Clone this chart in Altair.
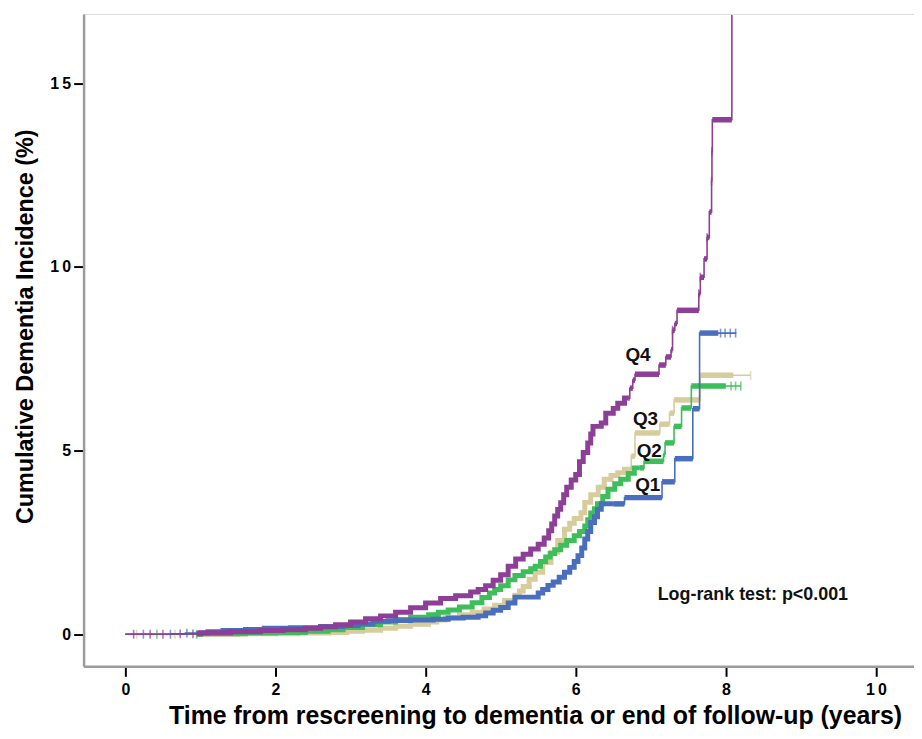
import altair as alt
import pandas as pd

# ---------------- data ----------------
groups = ["Q1", "Q2", "Q3", "Q4"]
colors = ["#4A6EBE", "#3DBE5A", "#D8CC9C", "#8D3E96"]
draw_order = ["Q3", "Q2", "Q1", "Q4"]

q1_t = [0, 0.8, 1.1, 1.3, 1.6, 1.85, 2.2, 2.6, 2.9, 3.1, 3.3, 3.5, 3.8, 4.1, 4.3, 4.5, 4.7, 4.8,
        4.9, 5.0, 5.1, 5.19, 5.5, 5.56, 5.63, 5.7, 5.78, 5.85, 5.92, 5.98, 6.03, 6.08, 6.12, 6.16,
        6.2, 6.25, 6.29, 6.34, 6.65, 7.15, 7.32, 7.56, 7.65, 8.14]
q1_y = [0, 0.03, 0.07, 0.1, 0.13, 0.16, 0.18, 0.21, 0.24, 0.28, 0.35, 0.37, 0.39, 0.41, 0.44, 0.46, 0.5, 0.58,
        0.65, 0.73, 0.85, 1.01, 1.12, 1.22, 1.33, 1.42, 1.55, 1.69, 1.82, 1.98, 2.14, 2.35, 2.59, 2.8,
        3.04, 3.2, 3.4, 3.55, 3.72, 4.15, 4.78, 6.14, 8.2, 8.2]

q2_t = [0, 1.0, 1.6, 2.0, 2.4, 2.7, 2.9, 3.16, 3.4, 3.6, 3.8, 4.04, 4.17, 4.3, 4.45, 4.62, 4.75,
        4.85, 4.92, 5.0, 5.1, 5.19, 5.3, 5.4, 5.46, 5.53, 5.6, 5.66, 5.72, 5.8, 5.88, 5.98, 6.05,
        6.12, 6.16, 6.2, 6.25, 6.29, 6.36, 6.43, 6.52, 6.6, 6.7, 6.78, 6.91, 7.17, 7.19, 7.31,
        7.41, 7.54, 8.2]
q2_y = [0, 0.01, 0.03, 0.05, 0.08, 0.12, 0.18, 0.26, 0.33, 0.4, 0.46, 0.53, 0.6, 0.66, 0.74, 0.86, 1.0,
        1.12, 1.22, 1.32, 1.48, 1.6, 1.7, 1.78, 1.85, 1.98, 2.1, 2.2, 2.3, 2.42, 2.55, 2.68, 2.8,
        2.95, 3.12, 3.3, 3.42, 3.55, 3.75, 3.95, 4.1, 4.22, 4.38, 4.53, 4.71, 4.9, 5.21, 5.66,
        6.16, 6.76, 6.76]

q3_t = [0, 1.5, 2.3, 2.72, 2.95, 3.16, 3.4, 3.6, 3.8, 4.04, 4.15, 4.26, 4.45, 4.62, 4.78, 4.92,
        5.05, 5.19, 5.25, 5.3, 5.38, 5.46, 5.56, 5.67, 5.76, 5.85, 5.92, 5.98, 6.07, 6.12, 6.2,
        6.3, 6.38, 6.47, 6.56, 6.65, 6.74, 6.79, 7.12, 7.25, 7.31, 7.66, 8.33]
q3_y = [0, 0.01, 0.03, 0.05, 0.08, 0.11, 0.16, 0.22, 0.27, 0.33, 0.39, 0.45, 0.53, 0.6, 0.69, 0.79,
        0.92, 1.06, 1.18, 1.3, 1.5, 1.69, 1.95, 2.23, 2.55, 2.86, 3.02, 3.15, 3.31, 3.59, 3.8,
        4.0, 4.22, 4.32, 4.4, 4.49, 4.85, 5.48, 5.72, 6.02, 6.38, 7.05, 7.05]

q4_t = [0, 0.6, 1.0, 1.4, 1.8, 2.1, 2.4, 2.6, 2.8, 3.0, 3.2, 3.4, 3.6, 3.8, 4.0, 4.2, 4.4, 4.6,
        4.7, 4.8, 4.9, 5.0, 5.1, 5.2, 5.3, 5.4, 5.5, 5.58, 5.64, 5.68, 5.72, 5.76, 5.8, 5.84, 5.88,
        5.94, 6.0, 6.05, 6.1, 6.16, 6.2, 6.23, 6.34, 6.4, 6.5, 6.56, 6.65, 6.72, 6.76, 6.79,
        7.11, 7.2, 7.27, 7.29, 7.32, 7.35, 7.64, 7.66, 7.71, 7.75, 7.78, 7.81, 7.815, 7.82, 8.08]
q4_y = [0, 0.01, 0.04, 0.07, 0.10, 0.12, 0.16, 0.2, 0.26, 0.33, 0.42, 0.5, 0.6, 0.72, 0.85, 0.97, 1.05, 1.15,
        1.22, 1.32, 1.47, 1.62, 1.85, 2.05, 2.18, 2.32, 2.45, 2.62, 2.82, 3.0, 3.22, 3.4, 3.58, 3.8, 4.0,
        4.2, 4.35, 4.7, 4.95, 5.21, 5.45, 5.66, 5.75, 6.02, 6.15, 6.29, 6.43, 6.7, 6.92, 7.08,
        7.33, 7.55, 7.74, 8.28, 8.46, 8.82, 9.27, 9.72, 10.22, 10.8, 11.5, 12.34, 13.15, 14.01, 16.86]

# ranges with dense censoring (drawn as a thicker band)
dense_start = {"Q1": 0.95, "Q2": 0.95, "Q3": 0.95, "Q4": 0.95}
dense_cut = {"Q1": 6.5, "Q2": 6.85, "Q3": 6.7, "Q4": 6.7}
dense_end = {"Q1": 7.9, "Q2": 8.0, "Q3": 8.1, "Q4": 8.08}

# isolated censoring marks (times)
cens_q1 = [0.24, 0.6, 0.82, 7.93, 7.99, 8.06, 8.13]
cens_q2 = [0.42, 0.95, 8.07, 8.13, 8.2]
cens_q3 = [0.15, 0.66, 8.33]
cens_q4 = [0.11, 0.33, 0.5, 0.73, 0.9, 7.29, 7.64, 7.66, 7.75, 7.81, 7.815]

label_text = ["Q4", "Q3", "Q2", "Q1"]
label_t = [6.83, 6.93, 6.98, 6.96]
label_y = [7.60, 5.86, 4.99, 4.06]

note_text = ["Log-rank test: p<0.001"]
note_t = [8.36]
note_y = [1.07]

x_ticks = [0, 2, 4, 6, 8, 10]
y_ticks = [0, 5, 10, 15]

# ---------------- tables ----------------
series = {"Q1": (q1_t, q1_y), "Q2": (q2_t, q2_y), "Q3": (q3_t, q3_y), "Q4": (q4_t, q4_y)}
censors = {"Q1": cens_q1, "Q2": cens_q2, "Q3": cens_q3, "Q4": cens_q4}


def step_val(ts, ys, t):
    v = ys[0]
    for ti, yi in zip(ts, ys):
        if ti <= t:
            v = yi
    return v


line_rows, thick_rows, rule_rows, cens_rows = [], [], [], []
for g in groups:
    ts, ys = series[g]
    for i, (t, y) in enumerate(zip(ts, ys)):
        line_rows.append({"g": g, "t": t, "y": y, "i": i})
    a, c, e = dense_start[g], dense_cut[g], dense_end[g]
    pts = [(a, step_val(ts, ys, a))] + [(t, y) for t, y in zip(ts, ys) if a < t < c] + [(c, step_val(ts, ys, c))]
    for i, (t, y) in enumerate(pts):
        thick_rows.append({"g": g, "t": t, "y": y, "i": i})
    for k in range(len(ts) - 1):
        s, f = max(ts[k], c), min(ts[k + 1], e)
        if f > s:
            rule_rows.append({"g": g, "t": s, "t2": f, "y": ys[k]})
    for t in censors[g]:
        cens_rows.append({"g": g, "t": t, "y": step_val(ts, ys, t)})

line_df = pd.DataFrame(line_rows)
thick_df = pd.DataFrame(thick_rows)
rule_df = pd.DataFrame(rule_rows)
cens_df = pd.DataFrame(cens_rows)
label_df = pd.DataFrame({"t": label_t, "y": label_y, "txt": label_text})
note_df = pd.DataFrame({"t": note_t, "y": note_y, "txt": note_text})

# ---------------- encodings ----------------
FONT = "Liberation Sans"
spaced = "datum.value == 10 ? '1\u20090' : datum.value == 15 ? '1\u20095' : datum.label"

xs = alt.Scale(domain=[-0.557, 10.507], nice=False, zero=False)
ys_ = alt.Scale(domain=[-0.875, 16.89], nice=False, zero=False)
cs = alt.Scale(domain=groups, range=colors)

x_axis = alt.Axis(values=x_ticks, title="Time from rescreening to dementia or end of follow-up (years)",
                  titleFontSize=25, titleFontWeight="bold", titleColor="black", titleFont=FONT,
                  titleX=454, titlePadding=6,
                  labelFontSize=16, labelFontWeight="bold", labelColor="black", labelFont=FONT,
                  labelPadding=5, labelExpr=spaced, labelFlush=False, labelOverlap=False,
                  tickColor="black", tickWidth=2, tickSize=10,
                  domainColor="#9b9b9b", domainWidth=2.5, grid=False)
y_axis = alt.Axis(values=y_ticks, title="Cumulative Dementia Incidence (%)",
                  titleFontSize=23.5, titleFontWeight="bold", titleColor="black", titleFont=FONT,
                  titleY=314, titlePadding=12,
                  labelFontSize=16, labelFontWeight="bold", labelColor="black", labelFont=FONT,
                  labelPadding=3, labelExpr=spaced, labelFlush=False, labelOverlap=False,
                  tickColor="black", tickWidth=2, tickSize=10,
                  domainColor="#9b9b9b", domainWidth=2.5, grid=False)

X = alt.X("t:Q", scale=xs, axis=x_axis)
Y = alt.Y("y:Q", scale=ys_, axis=y_axis)
C = alt.Color("g:N", scale=cs, legend=None)

layers = []
for g in draw_order:
    thin = alt.Chart(line_df).transform_filter(alt.datum.g == g).mark_line(
        interpolate="step-after", strokeWidth=1.6, clip=True
    ).encode(x=X, y=Y, color=C, order=alt.Order("i:Q"))
    thick = alt.Chart(thick_df).transform_filter(alt.datum.g == g).mark_line(
        interpolate="step-after", strokeWidth=5, clip=True
    ).encode(x=X, y=Y, color=C, order=alt.Order("i:Q"))
    band = alt.Chart(rule_df).transform_filter(alt.datum.g == g).mark_rule(
        strokeWidth=5.5, strokeCap="butt", clip=True
    ).encode(x=X, x2=alt.X2("t2:Q"), y=Y, color=C)
    ticks = alt.Chart(cens_df).transform_filter(alt.datum.g == g).mark_tick(
        orient="vertical", size=9, thickness=1.6, clip=True
    ).encode(x=X, y=Y, color=C)
    layers += [thin, thick, band, ticks]

labels = alt.Chart(label_df).mark_text(
    font=FONT, fontSize=19, fontWeight="bold", color="#111111", align="center", baseline="middle"
).encode(x=X, y=Y, text="txt:N")
note = alt.Chart(note_df).mark_text(
    font=FONT, fontSize=18, fontWeight="bold", color="#111111", align="center", baseline="middle"
).encode(x=X, y=Y, text="txt:N")

chart = alt.layer(*layers, labels, note).properties(
    width=835, height=656,
    padding={"left": 6, "top": 4, "right": 0, "bottom": 0},
).configure_view(stroke=None).configure(font=FONT, background="white")

chart.save("out.html", embed_options={"renderer": "svg", "actions": False})
